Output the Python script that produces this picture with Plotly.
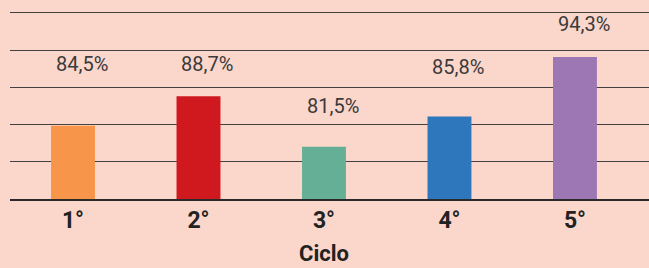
import plotly.graph_objects as go

categories = ["1°", "2°", "3°", "4°", "5°"]
values = [84.5, 88.7, 81.5, 85.8, 94.3]
value_labels = ["84,5%", "88,7%", "81,5%", "85,8%", "94,3%"]
bar_colors = ["#F7964A", "#D0181F", "#65AF97", "#2F77BD", "#9D77B3"]
label_lift = [62, 32, 41, 50, 33]  # px above bar top (style)

BG = "#FBD6CB"
y0, y1 = 74.06, 100.6
step = (y1 - y0) / 5

fig = go.Figure()
fig.add_trace(go.Bar(
    x=list(range(len(categories))), y=values,
    marker=dict(color=bar_colors, line=dict(width=0)),
    width=0.35, hoverinfo="skip",
))

for i, (v, lab, lift) in enumerate(zip(values, value_labels, label_lift)):
    fig.add_annotation(x=i, y=v, text=lab, showarrow=False,
                       xanchor="center", yanchor="middle",
                       xshift=9, yshift=lift,
                       font=dict(family="Roboto, Arial", size=20, color="#3A3A3A"))

fig.add_annotation(x=2, y=0, xref="x", yref="paper", text="<b>Ciclo</b>",
                   showarrow=False, xanchor="center", yanchor="top", yshift=-40,
                   font=dict(family="Roboto, Arial", size=22, color="#222222"))

fig.update_layout(
    width=649, height=268,
    margin=dict(l=10, r=0, t=11, b=69),
    paper_bgcolor=BG, plot_bgcolor=BG,
    showlegend=False,
    xaxis=dict(range=[-0.502, 4.59], tickmode="array",
               tickvals=list(range(len(categories))),
               ticktext=[f"<b>{c}</b>" for c in categories],
               tickfont=dict(family="Roboto, Arial", size=23, color="#222222"),
               showgrid=False, zeroline=False,
               showline=True, linecolor="#2A2A2A", linewidth=1.5,
               ticks="", fixedrange=True),
    yaxis=dict(range=[y0, y1 + 0.25], tick0=y0, dtick=step,
               showgrid=True, gridcolor="#444040", gridwidth=1.4,
               showticklabels=False, zeroline=False, showline=False,
               fixedrange=True),
)

fig.write_html("out.html", config={"displayModeBar": False},
               post_script="document.body.style.margin='0';document.body.style.background='%s';" % BG)
